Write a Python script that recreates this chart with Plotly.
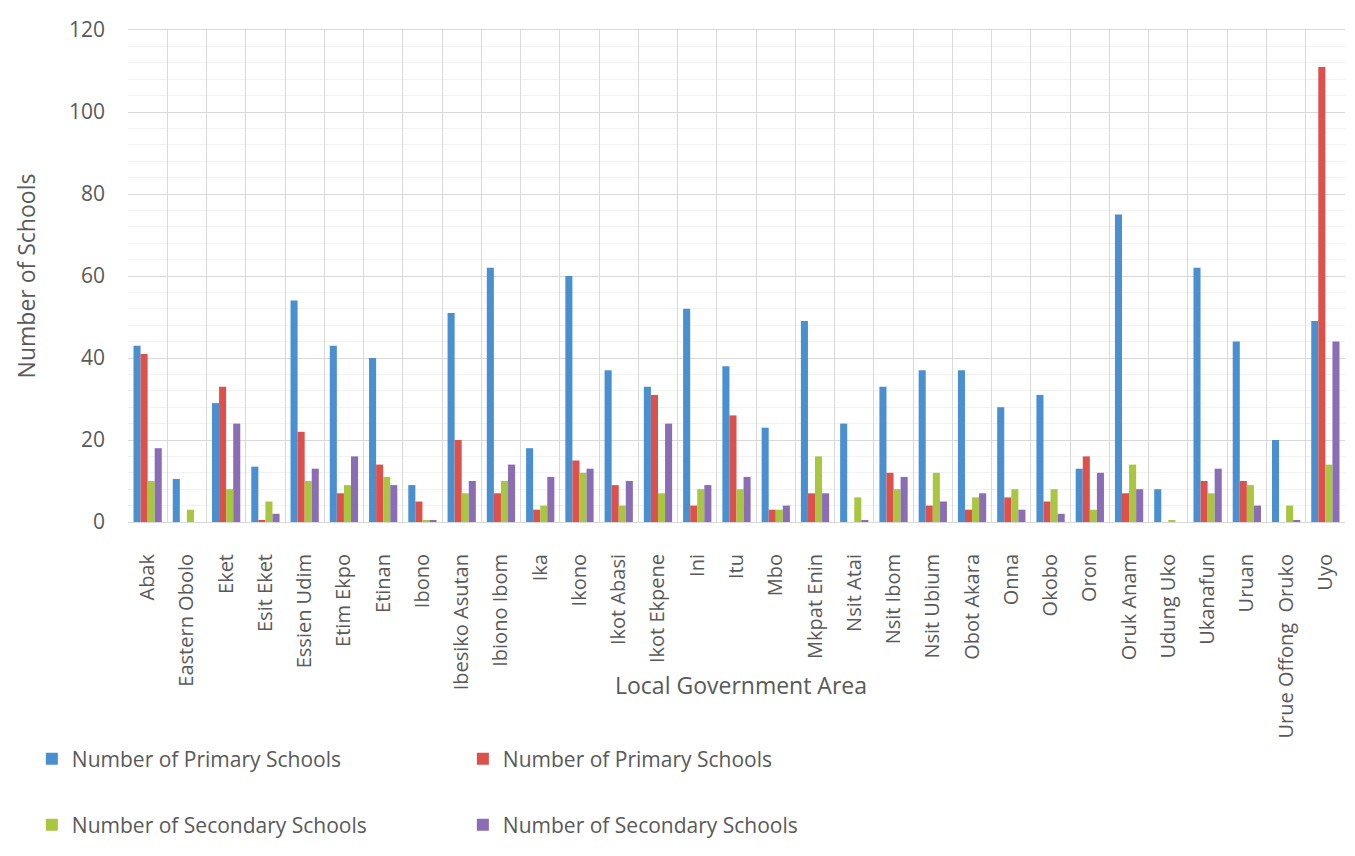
import plotly.graph_objects as go

categories = ["Abak", "Eastern Obolo", "Eket", "Esit Eket", "Essien Udim", "Etim Ekpo", "Etinan",
              "Ibono", "Ibesiko Asutan", "Ibiono Ibom", "Ika", "Ikono", "Ikot Abasi", "Ikot Ekpene",
              "Ini", "Itu", "Mbo", "Mkpat Enin", "Nsit Atai", "Nsit Ibom", "Nsit Ubium", "Obot Akara",
              "Onna", "Okobo", "Oron", "Oruk Anam", "Udung Uko", "Ukanafun", "Uruan",
              "Urue Offong  Oruko", "Uyo"]

primary_blue = [43, 10.5, 29, 13.5, 54, 43, 40, 9, 51, 62, 18, 60, 37, 33, 52, 38, 23, 49, 24, 33,
                37, 37, 28, 31, 13, 75, 8, 62, 44, 20, 49]
primary_red = [41, 0, 33, 0.5, 22, 7, 14, 5, 20, 7, 3, 15, 9, 31, 4, 26, 3, 7, 0, 12,
               4, 3, 6, 5, 16, 7, 0, 10, 10, 0, 111]
secondary_green = [10, 3, 8, 5, 10, 9, 11, 0.5, 7, 10, 4, 12, 4, 7, 8, 8, 3, 16, 6, 8,
                   12, 6, 8, 8, 3, 14, 0.5, 7, 9, 4, 14]
secondary_purple = [18, 0, 24, 2, 13, 16, 9, 0.5, 10, 14, 11, 13, 10, 24, 9, 11, 4, 7, 0.5, 11,
                    5, 7, 3, 2, 12, 8, 0, 13, 4, 0.5, 44]

series_names = ["Number of Primary Schools", "Number of Primary Schools",
                "Number of Secondary Schools", "Number of Secondary Schools"]
colors = ["#4a90d0", "#dc514b", "#a9c640", "#8a6db4"]
legends = ["legend", "legend", "legend2", "legend2"]

FONT = "Open Sans"
TXT = "#595959"

fig = go.Figure()
for vals, name, col, lg in zip([primary_blue, primary_red, secondary_green, secondary_purple],
                               series_names, colors, legends):
    fig.add_trace(go.Bar(x=categories, y=vals, name=name, marker_color=col,
                         marker_line_width=0, legend=lg))

legend_common = dict(orientation="h", entrywidth=386, entrywidthmode="pixels",
                     font=dict(family=FONT, size=21, color=TXT), bgcolor="rgba(0,0,0,0)",
                     xanchor="left", yanchor="middle", traceorder="normal")

fig.update_layout(
    width=1355, height=856,
    margin=dict(l=128, r=10, t=30, b=332),
    paper_bgcolor="white", plot_bgcolor="white",
    barmode="group", bargap=0.28, bargroupgap=0,
    font=dict(family=FONT, color=TXT, size=19),
    legend=dict(x=-0.079, y=-0.482, **legend_common),
    legend2=dict(x=-0.079, y=-0.616, **legend_common),
    showlegend=True,
)

fig.update_xaxes(
    type="category", tickangle=-90, tickson="boundaries",
    showgrid=True, gridcolor="#d9d9d9", gridwidth=1,
    showline=True, linecolor="#d9d9d9", mirror=True,
    ticks="", ticklabelstandoff=23, tickfont=dict(family=FONT, size=20, color=TXT),
)
fig.update_yaxes(
    range=[0, 120], dtick=20, showgrid=True, gridcolor="#d9d9d9", gridwidth=1,
    minor=dict(dtick=4, showgrid=True, gridcolor="#f2f2f2", gridwidth=1),
    zeroline=False, showline=False, ticks="", ticklabelstandoff=22,
    tickfont=dict(family=FONT, size=21, color=TXT),
    title=dict(text="Number of Schools", font=dict(family=FONT, size=23, color=TXT), standoff=26),
)

fig.add_annotation(text="Local Government Area", xref="paper", yref="paper",
                   x=0.504, y=-0.332, xanchor="center", yanchor="middle", showarrow=False,
                   font=dict(family=FONT, size=23, color=TXT))

fig.write_html("out.html")
